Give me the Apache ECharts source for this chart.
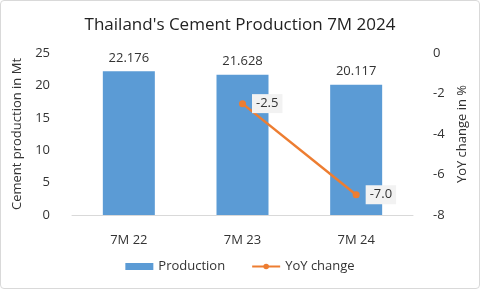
<!DOCTYPE html>
<html><head><meta charset="utf-8">
<script src="https://cdn.jsdelivr.net/npm/echarts@6/dist/echarts.min.js"></script>
<style>html,body{margin:0;padding:0;background:#fff}#c{width:480px;height:289px;box-sizing:border-box;border:1px solid #d9d9d9;border-radius:4px}</style>
</head><body><div id="c"></div>
<script>
const categories = ['7M 22', '7M 23', '7M 24'];
const production = [22.176, 21.628, 20.117];
const yoyChange = [null, -2.5, -7.0];
const leftTicks = [0, 5, 10, 15, 20, 25];
const rightTicks = [-8, -6, -4, -2, 0];

const font = 'Open Sans, Noto Sans, sans-serif';
const chart = echarts.init(document.getElementById('c'), null, {renderer: 'canvas'});
chart.setOption({
  animation: false,
  title: {text: "Thailand's Cement Production 7M 2024", left: 'center', top: 11,
    textStyle: {fontFamily: font, fontSize: 17, fontWeight: 'normal', color: '#222'}},
  grid: {left: 71, right: 66, top: 52, bottom: 73},
  legend: {bottom: 10, left: 'center', itemGap: 26, itemWidth: 28, itemHeight: 7,
    textStyle: {fontFamily: font, fontSize: 13, color: '#333'},
    data: [{name: 'Production', icon: 'rect'}, {name: 'YoY change'}]},
  xAxis: {type: 'category', data: categories,
    axisLine: {lineStyle: {color: '#d9d9d9'}}, axisTick: {show: false},
    axisLabel: {fontFamily: font, fontSize: 13, color: '#333', margin: 19}},
  yAxis: [
    {type: 'value', min: 0, max: 25, interval: 5, splitLine: {show: false},
     name: 'Cement production in Mt', nameLocation: 'middle', nameGap: 44, nameRotate: 90,
     nameTextStyle: {fontFamily: font, fontSize: 13, color: '#333'},
     axisLabel: {fontFamily: font, fontSize: 13, color: '#333', margin: 22}},
    {type: 'value', min: -8, max: 0, interval: 2, splitLine: {show: false},
     name: 'YoY change in %', nameLocation: 'middle', nameGap: 42, nameRotate: 90,
     nameTextStyle: {fontFamily: font, fontSize: 13, color: '#333'},
     axisLabel: {fontFamily: font, fontSize: 13, color: '#333', margin: 20}}
  ],
  series: [
    {name: 'Production', type: 'bar', data: production, barWidth: 52,
     itemStyle: {color: '#5b9bd5'},
     label: {show: true, position: 'top', distance: 7, fontFamily: font, fontSize: 13, color: '#333',
       formatter: p => p.value.toFixed(3)}},
    {name: 'YoY change', type: 'line', yAxisIndex: 1, data: yoyChange,
     symbol: 'circle', symbolSize: 7, itemStyle: {color: '#ed7d31'},
     lineStyle: {color: '#ed7d31', width: 2.5},
     label: {show: true, position: 'right', distance: 6, fontFamily: font, fontSize: 13, color: '#333',
       backgroundColor: '#f2f2f2', padding: [3, 4],
       formatter: p => p.value.toFixed(1)}}
  ]
});
</script></body></html>
